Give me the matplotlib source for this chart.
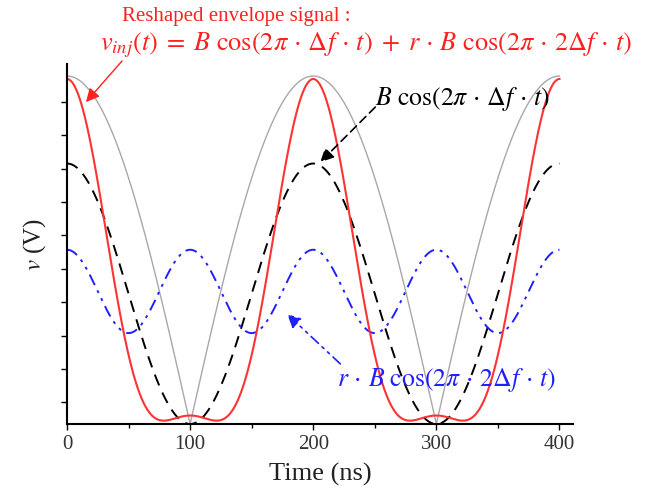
import numpy as np
import matplotlib
matplotlib.use('Agg')
import matplotlib.pyplot as plt

plt.rcParams['font.family'] = ['Liberation Serif', 'DejaVu Serif']
plt.rcParams['mathtext.fontset'] = 'stix'

# Signal parameters (time in ns, frequency in GHz)
delta_f = 0.005      # beat frequency, period 200 ns
B = 3.9              # amplitude of the fundamental
r = 0.32             # relative amplitude of the second harmonic
red_gain = 5.038 / B # scaling of the reshaped envelope
red_offset = 3.68
blue_offset = 3.97
env_amp = 10.42      # amplitude of the rectified envelope

x_ticks = [0, 100, 200, 300, 400]
x_minor = [50, 150, 250, 350]
y_ticks = np.arange(0.65, 10.0, 1.0)

t = np.linspace(0, 400, 2001)
phase = 2 * np.pi * delta_f * t

envelope = env_amp * np.abs(np.cos(np.pi * delta_f * t))
fundamental = B * np.cos(phase) + B
harmonic = r * B * np.cos(2 * phase) + blue_offset
v_inj = red_gain * (B * np.cos(phase) + r * B * np.cos(2 * phase)) + red_offset

fig = plt.figure(figsize=(6.68, 5.02), dpi=100)
ax = fig.add_axes([67 / 668, 1 - 425 / 502, (573 - 67) / 668, (425 - 65) / 502])

ax.plot(t, envelope, color='#a8a8a8', lw=1.0)
ax.plot(t, fundamental, color='black', lw=1.4, dashes=(6, 4))
ax.plot(t, harmonic, color='#2020ff', lw=1.4, dashes=(6, 3, 1.5, 3, 1.5, 3))
ax.plot(t, v_inj, color='#ff3333', lw=1.5)

ax.set_xlim(0, 411)
ax.set_ylim(0, 10.78)
ax.set_xticks(x_ticks)
ax.set_xticks(x_minor, minor=True)
ax.set_yticks(y_ticks)
ax.set_yticklabels([])
ax.tick_params(axis='both', which='both', direction='out', length=4, width=1.0,
               labelsize=15, colors='black', labelcolor='#333333')
ax.tick_params(axis='x', which='minor', length=3)
for side in ['top', 'right']:
    ax.spines[side].set_visible(False)
for side in ['left', 'bottom']:
    ax.spines[side].set_linewidth(1.5)

ax.set_xlabel('Time (ns)', fontsize=19, color='#222222', labelpad=6)
ax.set_ylabel(r'$v$ (V)', fontsize=18, color='#222222', labelpad=6)

# Labels for each curve
red = '#ff2020'
dot = r'\,\cdot\,'
eq_inj = (r'$v_{inj}(t)\;=\;B\ \cos(2\pi' + dot + r'\Delta f' + dot + r't)\;+\;r'
          + dot + r'B\ \cos(2\pi' + dot + r'2\Delta f' + dot + r't)$')
eq_fund = r'$B\ \cos(2\pi' + dot + r'\Delta f' + dot + r't)$'
eq_harm = r'$r' + dot + r'B\ \cos(2\pi' + dot + r'2\Delta f' + dot + r't)$'

fig.text(122 / 668, 1 - 17 / 502, 'Reshaped envelope signal :', color=red,
         fontsize=15, ha='left', va='center')
fig.text(100 / 668, 1 - 45 / 502, eq_inj, color=red, fontsize=19,
         ha='left', va='center')

ax.annotate('', xy=(15.4, 9.64), xytext=(44.7, 10.87), annotation_clip=False,
            arrowprops=dict(arrowstyle='-|>', color=red, lw=1.0,
                            mutation_scale=20, shrinkA=0, shrinkB=0))

ax.text(250.4, 9.76, eq_fund, color='black', fontsize=18.5, ha='left', va='center')
ax.annotate('', xy=(205.7, 7.84), xytext=(250.4, 9.49),
            arrowprops=dict(arrowstyle='-|>', color='black', lw=1.2,
                            linestyle=(0, (5, 3)), mutation_scale=20,
                            shrinkA=0, shrinkB=0))

ax.text(219.5, 1.35, eq_harm, color='#2020ff', fontsize=18.5, ha='left', va='center')
ax.annotate('', xy=(178.9, 3.29), xytext=(222.0, 1.80),
            arrowprops=dict(arrowstyle='-|>', color='#2020ff', lw=1.2,
                            linestyle=(0, (6, 3, 1.5, 3, 1.5, 3)), mutation_scale=20,
                            shrinkA=0, shrinkB=0))

fig.savefig('out.png', dpi=100)
